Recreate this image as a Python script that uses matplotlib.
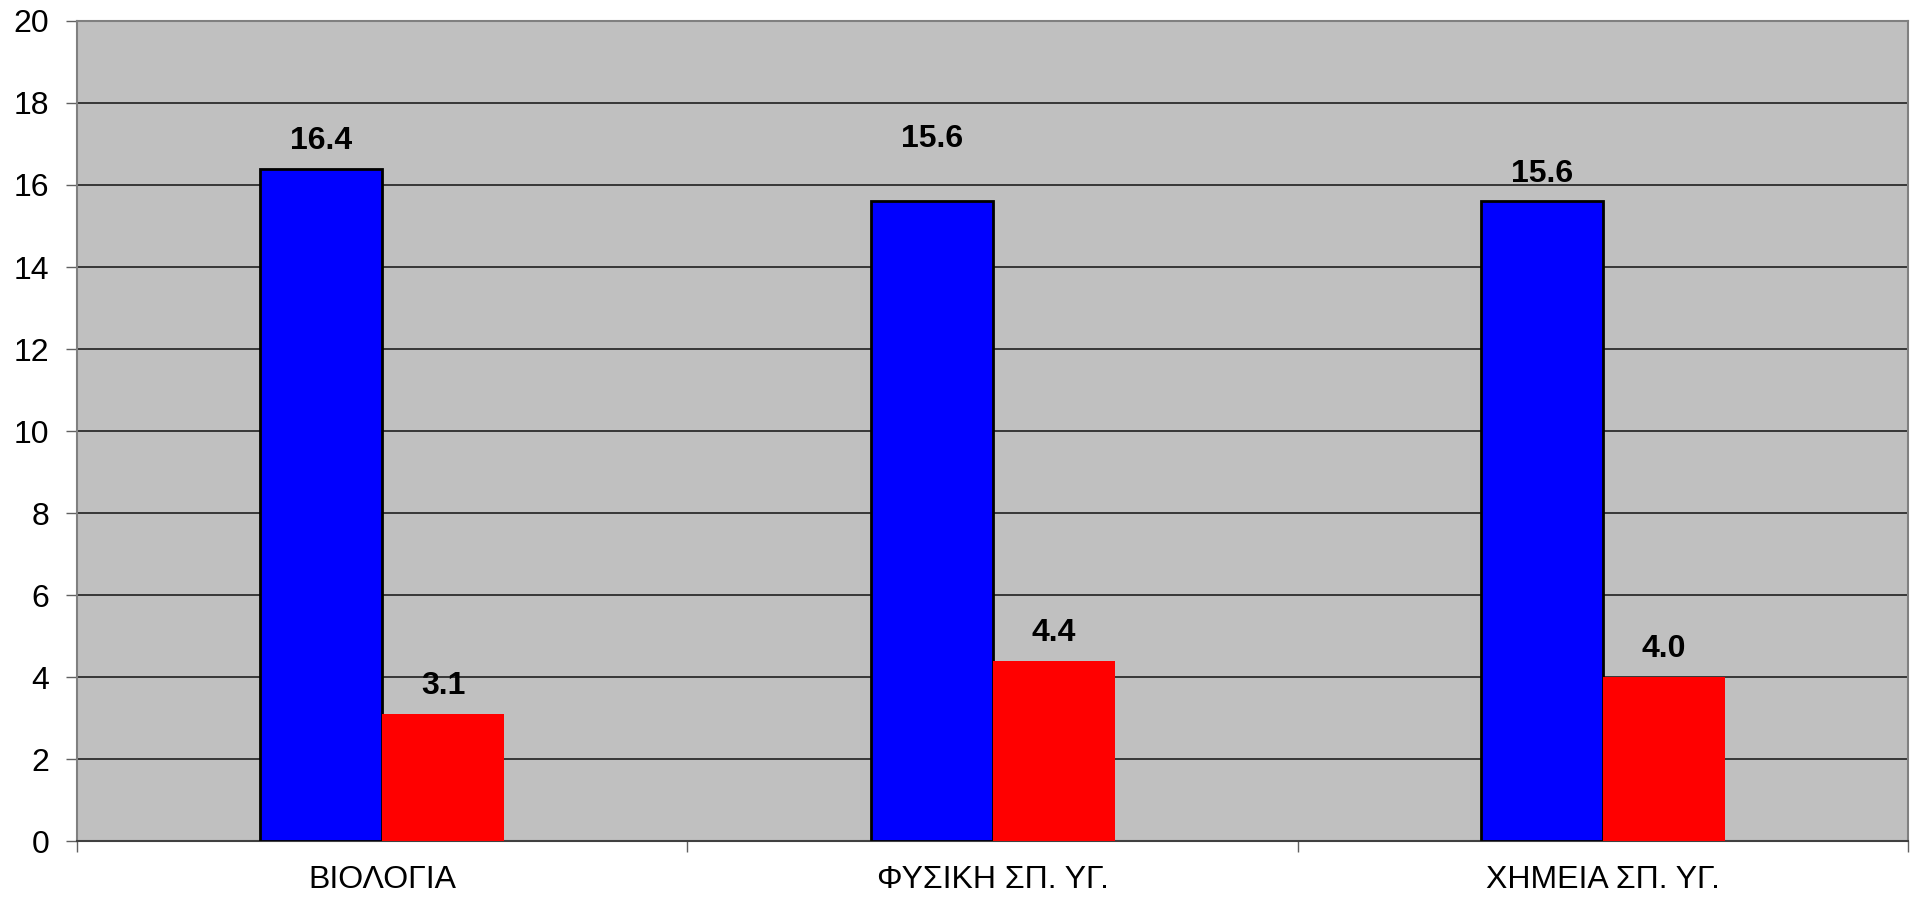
import numpy as np
import matplotlib
matplotlib.use("Agg")
from matplotlib import pyplot as plt

plt.rcParams['font.family'] = ['Liberation Sans', 'DejaVu Sans']

# Data
categories = ['ΒΙΟΛΟΓΙΑ', 'ΦΥΣΙΚΗ ΣΠ. ΥΓ.', 'ΧΗΜΕΙΑ ΣΠ. ΥΓ.']
blue_values = [16.4, 15.6, 15.6]
red_values = [3.1, 4.4, 4.0]
y_ticks = [0, 2, 4, 6, 8, 10, 12, 14, 16, 18, 20]

fig = plt.figure(figsize=(19.12, 8.97), dpi=100)
ax = fig.add_axes([0.0403, 0.0624, 0.9577, 0.9142])
ax.set_facecolor('#C0C0C0')

x = np.arange(len(categories))
width = 0.2

blue = ax.bar(x - width / 2, blue_values, width, color='#0000FF', edgecolor='black', linewidth=2, zorder=3)
red = ax.bar(x + width / 2, red_values, width, color='#FF0000', edgecolor='none', zorder=3)

# value labels (the middle blue label sits higher in the original)
blue_offsets = [20, 45, 20]
for rect, v, off in zip(blue, blue_values, blue_offsets):
    ax.annotate(f'{v:.1f}', (rect.get_x() + rect.get_width() / 2, v), xytext=(0, off),
                textcoords='offset points', ha='center', va='center',
                fontsize=23, fontweight='bold')
for rect, v in zip(red, red_values):
    ax.annotate(f'{v:.1f}', (rect.get_x() + rect.get_width() / 2, v), xytext=(0, 20),
                textcoords='offset points', ha='center', va='center',
                fontsize=23, fontweight='bold')

ax.set_ylim(0, 20)
ax.set_xlim(-0.5, len(categories) - 0.5)
ax.set_yticks(y_ticks)
ax.yaxis.grid(True, color='#202020', linewidth=1.2, zorder=0)
ax.set_axisbelow(True)

ax.set_xticks(x)
ax.set_xticklabels(categories)
ax.set_xticks(np.arange(-0.5, len(categories)), minor=True)
ax.tick_params(axis='x', which='major', length=0, pad=17, labelsize=23)
ax.tick_params(axis='x', which='minor', length=8, width=1, color='#606060', direction='out')
ax.tick_params(axis='y', length=8, width=1, color='#606060', direction='out', pad=12, labelsize=23)

for side in ['left', 'top', 'right']:
    ax.spines[side].set_color('#808080')
    ax.spines[side].set_linewidth(1.5)
ax.spines['bottom'].set_color('#404040')
ax.spines['bottom'].set_linewidth(1.5)

fig.savefig('out.png', dpi=100)
